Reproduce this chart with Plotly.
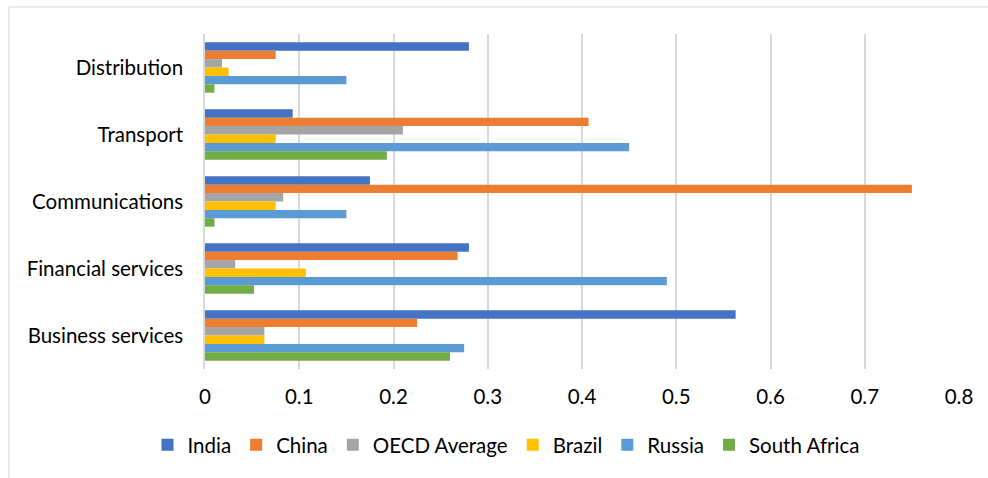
import plotly.graph_objects as go

# Sectors, listed top to bottom
categories = ["Distribution", "Transport", "Communications",
              "Financial services", "Business services"]

# One value per sector for each economy
india = [0.28, 0.093, 0.175, 0.28, 0.563]
china = [0.075, 0.407, 0.75, 0.268, 0.225]
oecd_average = [0.018, 0.21, 0.083, 0.032, 0.063]
brazil = [0.025, 0.075, 0.075, 0.107, 0.063]
russia = [0.15, 0.45, 0.15, 0.49, 0.275]
south_africa = [0.01, 0.193, 0.01, 0.052, 0.26]

series_names = ["India", "China", "OECD Average", "Brazil", "Russia", "South Africa"]
series_values = [india, china, oecd_average, brazil, russia, south_africa]
series_colors = ["#4472C4", "#ED7D31", "#A5A5A5", "#FFC000", "#5B9BD5", "#70AD47"]

x_tickvals = [0, 0.1, 0.2, 0.3, 0.4, 0.5, 0.6, 0.7, 0.8]
x_ticktext = ["0", "0.1", "0.2", "0.3", "0.4", "0.5", "0.6", "0.7", "0.8"]

FONT = "Lato"
FS = 20.5
W, H = 988, 478
ML, MR, MT, MB = 205, 29, 34, 109

fig = go.Figure()
for name, vals, col in zip(series_names, series_values, series_colors):
    fig.add_trace(go.Bar(
        y=categories, x=vals, name=name, orientation="h",
        marker=dict(color=col, line=dict(width=0)),
    ))

# outer chart frame (left and top edges visible)
pw, ph = W - ML - MR, H - MT - MB
def px_x(p):
    return (p - ML) / pw
def px_y(p):
    return (H - MB - p) / ph

fig.add_shape(type="rect", xref="paper", yref="paper",
              x0=px_x(9), x1=px_x(1010), y0=px_y(500), y1=px_y(7),
              line=dict(color="#D9D9D9", width=1.2), fillcolor="rgba(0,0,0,0)",
              layer="below")

fig.update_layout(
    width=W, height=H,
    margin=dict(l=ML, r=MR, t=MT, b=MB, pad=0),
    paper_bgcolor="white", plot_bgcolor="white",
    barmode="group", bargap=0.248, bargroupgap=0,
    font=dict(family=FONT, size=FS, color="#000000"),
    showlegend=True,
    legend=dict(orientation="h", x=px_x(506), xanchor="center",
                y=px_y(445), yanchor="middle",
                font=dict(family=FONT, size=FS, color="#000000"),
                itemwidth=30, traceorder="normal",
                bgcolor="rgba(0,0,0,0)"),
    xaxis=dict(range=[0, 0.8], tickvals=x_tickvals, ticktext=x_ticktext,
               showgrid=True, gridcolor="#D9D9D9", gridwidth=1.5,
               zeroline=False, showline=False, ticks="",
               ticklabelstandoff=13,
               tickfont=dict(family=FONT, size=FS, color="#000000")),
    yaxis=dict(autorange="reversed", showgrid=False, zeroline=False,
               showline=True, linecolor="#D9D9D9", linewidth=1.5,
               ticks="", ticklabelstandoff=16,
               tickfont=dict(family=FONT, size=FS, color="#000000")),
)

fig.write_html("out.html")
